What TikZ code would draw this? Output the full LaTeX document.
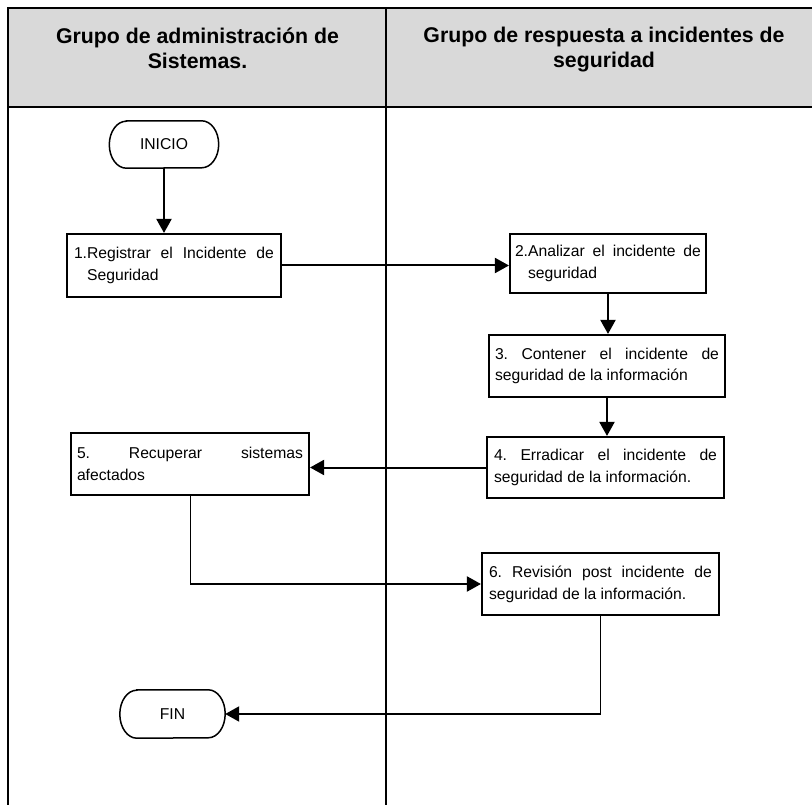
\documentclass[tikz,border=0pt]{standalone}
\usepackage{fontspec}
\setmainfont{Liberation Sans}
\usetikzlibrary{arrows.meta}
\definecolor{headgray}{RGB}{217,217,217}
\hyphenpenalty=10000
\exhyphenpenalty=10000
\tolerance=9999
\frenchspacing
\begin{document}
\begin{tikzpicture}[x=1pt,y=-1pt,
  boxfont/.style={font=\fontsize{15.7}{21.7}\selectfont},
  headfont/.style={font=\fontsize{21.3}{25}\selectfont\bfseries},
  frameline/.style={line width=2pt},
  procbox/.style={draw, line width=2.1pt, align=justify, inner xsep=7pt, inner ysep=0pt, boxfont},
  termbox/.style={inner sep=0pt, boxfont},
  termline/.style={line width=1.5pt},
  conn/.style={line width=2pt, -{Triangle[length=14pt,width=15pt]}},
  thinconn/.style={line width=1pt}
]
\useasboundingbox (0,0) rectangle (812,805);
% header band
\fill[headgray] (8,8) rectangle (812,107);
\draw[frameline] (812,8) -- (8,8) -- (8,805);
\draw[frameline] (8,107) -- (812,107);
\draw[frameline] (386,8) -- (386,805);
\node[headfont, align=center] (h1) at (197.5,48) {Grupo de administración de\\Sistemas.};
\node[headfont, align=center] (h2) at (604,50) {Grupo de respuesta a incidentes de\\seguridad};

% terminals
\node[termbox, minimum width=109, minimum height=47] (inicio) at (164,144.5) {INICIO};
\draw[termline] ([xshift=17pt]inicio.north west) -- ([xshift=-17pt]inicio.north east)
  arc[start angle=90,end angle=-90,x radius=17pt,y radius=23.5pt]
  -- ([xshift=17pt]inicio.south west)
  arc[start angle=270,end angle=90,x radius=17pt,y radius=23.5pt] -- cycle;
\node[termbox, minimum width=105, minimum height=48] (fin) at (172.5,714) {FIN};
\draw[termline] ([xshift=17pt]fin.north west) -- ([xshift=-17pt]fin.north east)
  arc[start angle=90,end angle=-90,x radius=17pt,y radius=24pt]
  -- ([xshift=17pt]fin.south west)
  arc[start angle=270,end angle=90,x radius=17pt,y radius=24pt] -- cycle;

% process boxes
\node[procbox, minimum width=214, text width=200, minimum height=63] (b1) at (174,265.5)
  {1.\parbox[t]{186.9pt}{Registrar el Incidente de\linebreak Seguridad}};
\node[procbox, minimum width=196, text width=186, inner xsep=5pt, minimum height=59] (b2) at (608,263.5)
  {2.\parbox[t]{172.9pt}{Analizar el incidente de\linebreak seguridad}};
\node[procbox, minimum width=236, text width=224, inner xsep=6pt, minimum height=62] (b3) at (607,366)
  {3. Contener el incidente de\linebreak seguridad de la información};
\node[procbox, minimum width=237, text width=223, minimum height=61] (b4) at (605.5,467.5)
  {4. Erradicar el incidente de\linebreak seguridad de la información.};
\node[procbox, minimum width=238, text width=226, inner xsep=6pt, minimum height=62] (b5) at (190,464)
  {5. Recuperar sistemas\linebreak afectados};
\node[procbox, minimum width=237, text width=223, minimum height=62] (b6) at (600.5,584)
  {6. Revisión post incidente de\linebreak seguridad de la información.};

% connectors
\draw[conn] (inicio.south) -- (inicio.south |- b1.north);
\draw[conn] (b1.east) -- (b1.east -| b2.west);
\draw[conn] (b2.south) -- (b2.south |- b3.north);
\draw[conn] (b3.south) -- (b3.south |- b4.north);
\draw[conn] (b4.west) -- (b4.west -| b5.east);
\coordinate (k1) at (b5.south |- b6.west);
\draw[thinconn] (b5.south) -- (k1);
\draw[conn] (k1) -- (b6.west);
\coordinate (k2) at (b6.south |- fin.east);
\draw[thinconn] (b6.south) -- (k2);
\draw[conn] (k2) -- (fin.east);
\end{tikzpicture}
\end{document}
